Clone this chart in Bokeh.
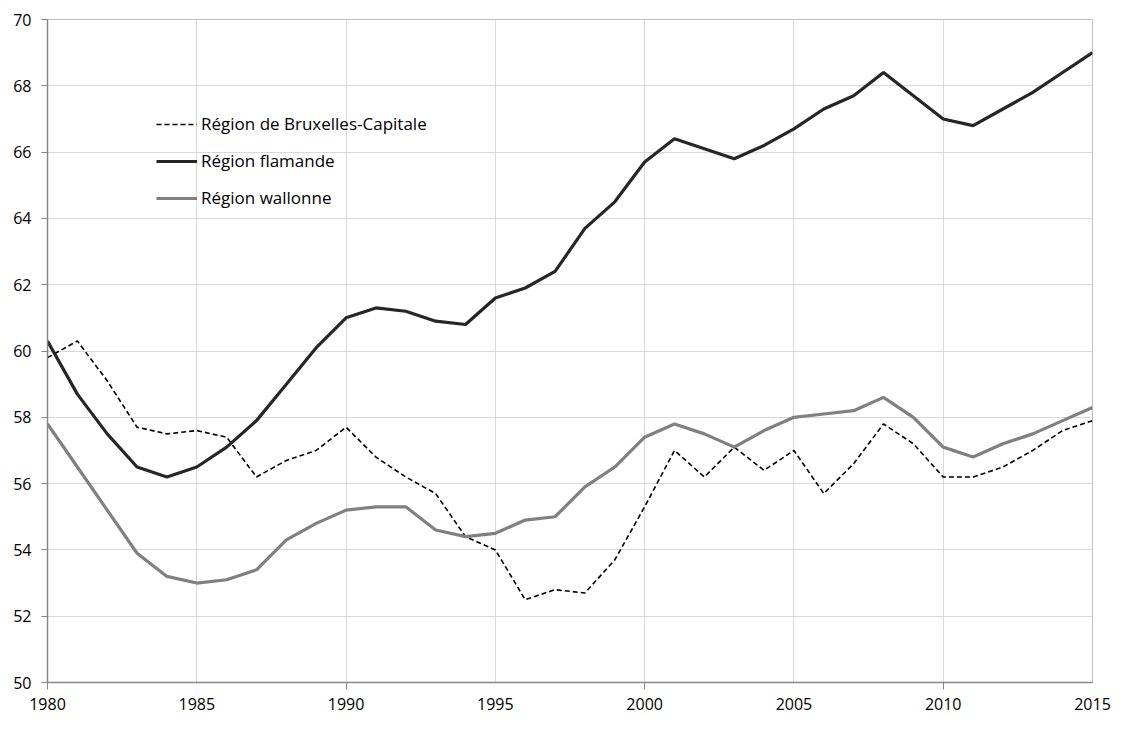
from bokeh.plotting import figure
from bokeh.models import Range1d, FixedTicker, Legend, LegendItem
from bokeh.embed import file_html
from bokeh.resources import INLINE

years = list(range(1980, 2016))
bruxelles = [59.8, 60.3, 59.1, 57.7, 57.5, 57.6, 57.4, 56.2, 56.7, 57.0,
             57.7, 56.8, 56.2, 55.7, 54.4, 54.0, 52.5, 52.8, 52.7, 53.7,
             55.3, 57.0, 56.2, 57.1, 56.4, 57.0, 55.7, 56.6, 57.8, 57.2,
             56.2, 56.2, 56.5, 57.0, 57.6, 57.9]
flamande = [60.3, 58.7, 57.5, 56.5, 56.2, 56.5, 57.1, 57.9, 59.0, 60.1,
            61.0, 61.3, 61.2, 60.9, 60.8, 61.6, 61.9, 62.4, 63.7, 64.5,
            65.7, 66.4, 66.1, 65.8, 66.2, 66.7, 67.3, 67.7, 68.4, 67.7,
            67.0, 66.8, 67.3, 67.8, 68.4, 69.0]
wallonne = [57.8, 56.5, 55.2, 53.9, 53.2, 53.0, 53.1, 53.4, 54.3, 54.8,
            55.2, 55.3, 55.3, 54.6, 54.4, 54.5, 54.9, 55.0, 55.9, 56.5,
            57.4, 57.8, 57.5, 57.1, 57.6, 58.0, 58.1, 58.2, 58.6, 58.0,
            57.1, 56.8, 57.2, 57.5, 57.9, 58.3]
labels = ["Région de Bruxelles-Capitale", "Région flamande", "Région wallonne"]
x_ticks = list(range(1980, 2016, 5))
x_minor = [1980, 1990, 2000, 2010]
y_ticks = list(range(50, 71, 2))

FONT = "Open Sans"

p = figure(width=1111, height=715, output_backend="svg", toolbar_location=None,
           x_range=Range1d(1980, 2015), y_range=Range1d(50, 70),
           min_border_left=47, min_border_top=19, min_border_right=19, min_border_bottom=33)
p.background_fill_color = "white"
p.border_fill_color = "white"
p.outline_line_color = "#bfbfbf"
p.outline_line_width = 1

p.xaxis.ticker = FixedTicker(ticks=x_ticks, minor_ticks=x_minor)
p.yaxis.ticker = FixedTicker(ticks=y_ticks)
for ax in (p.xaxis[0], p.yaxis[0]):
    ax.axis_line_color = "#868686"
    ax.axis_line_width = 1.5
    ax.major_tick_line_color = "#868686"
    ax.minor_tick_line_color = "#868686"
    ax.major_label_text_font = FONT
    ax.major_label_text_font_size = "16px"
    ax.major_label_text_color = "#000000"
p.xaxis.major_tick_out = 0
p.xaxis.major_tick_in = 0
p.xaxis.minor_tick_out = 7
p.xaxis.minor_tick_in = 0
p.xaxis.major_label_standoff = 8
p.yaxis.major_tick_out = 6
p.yaxis.major_tick_in = 0
p.yaxis.minor_tick_out = 0
p.yaxis.minor_tick_in = 0
p.yaxis.major_label_standoff = 10

p.xgrid.ticker = FixedTicker(ticks=x_ticks)
p.ygrid.ticker = FixedTicker(ticks=y_ticks)
p.xgrid.grid_line_color = "#d9d9d9"
p.ygrid.grid_line_color = "#d9d9d9"

r1 = p.line(years, bruxelles, line_color="#000000", line_width=1.6, line_dash="5 3")
r2 = p.line(years, flamande, line_color="#262626", line_width=3.2)
r3 = p.line(years, wallonne, line_color="#808080", line_width=3.2)

legend = Legend(items=[LegendItem(label=labels[0], renderers=[r1]),
                       LegendItem(label=labels[1], renderers=[r2]),
                       LegendItem(label=labels[2], renderers=[r3])],
                location=(105, 469))
legend.background_fill_alpha = 0
legend.border_line_alpha = 0
legend.label_text_font = FONT
legend.label_text_font_size = "17px"
legend.label_text_color = "#000000"
legend.glyph_width = 41
legend.label_standoff = 4
legend.spacing = 14
legend.padding = 4
legend.margin = 0
p.add_layout(legend)

open("out.html", "w").write(file_html(p, INLINE))
